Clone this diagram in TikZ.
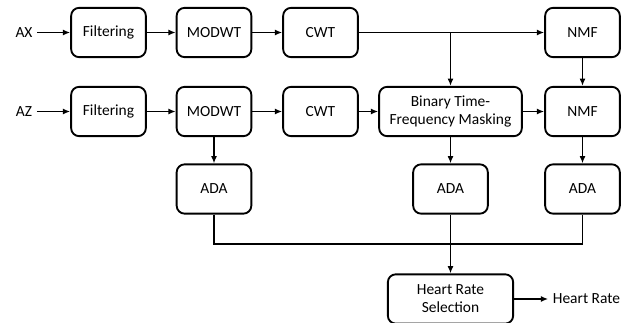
\documentclass[tikz,border=0pt]{standalone}
\usepackage{fontspec}
\setmainfont{Carlito}
\usepackage{tikz}
\usetikzlibrary{positioning}
\usetikzlibrary{arrows.meta}

\begin{document}
\begin{tikzpicture}[
    x=0.75pt, y=-0.75pt,
    font=\fontsize{11.6}{13.5}\selectfont,
    block/.style={draw, line width=1.4pt, rounded corners=6pt, align=center,
        minimum width=56pt, minimum height=37pt, inner sep=2pt},
    arr/.style={-{Latex[length=5.5pt,width=4.5pt]}, line width=1.4pt},
    wire/.style={line width=1.4pt}
]

    \useasboundingbox (0,0) rectangle (633,323);

    % Inputs
    \node (ax) at (24,32.5) {AX};
    \node (az) at (24,111.5) {AZ};

    % Row AX
    \node[block] (filtx) at (108.5,32.5) {Filtering};
    \node[block] (modwtx) at (214,32.5) {MODWT};
    \node[block] (cwtx) at (320.5,32.5) {CWT};
    \node[block] (nmfx) at (582.5,32.5) {NMF};

    % Row AZ
    \node[block] (filtz) at (108.5,111.5) {Filtering};
    \node[block] (modwtz) at (214,111.5) {MODWT};
    \node[block] (cwtz) at (320.5,111.5) {CWT};
    \node[block, minimum width=107pt] (mask) at (450.5,111.5) {Binary Time-\\Frequency Masking};
    \node[block] (nmfz) at (582.5,111.5) {NMF};

    % ADA
    \node[block] (ada1) at (214,189) {ADA};
    \node[block] (ada2) at (450.5,189) {ADA};
    \node[block] (ada3) at (582.5,189) {ADA};

    % Selection
    \node[block, minimum width=94pt] (hrs) at (450.5,299) {Heart Rate\\Selection};
    \node (hr) at (586.5,299) {Heart Rate};

    \coordinate (split) at (450.5,32.5);
    \coordinate (bus) at (450.5,244);

    % Connections
    \draw[arr] (ax) -- (filtx);
    \draw[arr] (filtx) -- (modwtx);
    \draw[arr] (modwtx) -- (cwtx);
    \draw[arr] (cwtx) -- (nmfx);
    \draw[arr] (split) -- (mask);
    \draw[arr] (nmfx) -- (nmfz);

    \draw[arr] (az) -- (filtz);
    \draw[arr] (filtz) -- (modwtz);
    \draw[arr] (modwtz) -- (cwtz);
    \draw[arr] (cwtz) -- (mask);
    \draw[arr] (mask) -- (nmfz);

    \draw[arr] (modwtz) -- (ada1);
    \draw[arr] (mask) -- (ada2);
    \draw[arr] (nmfz) -- (ada3);

    \draw[wire] (ada1) |- (bus) -| (ada3);
    \draw[arr] (ada2) -- (hrs);
    \draw[arr] (hrs) -- (hr);

\end{tikzpicture}
\end{document}
